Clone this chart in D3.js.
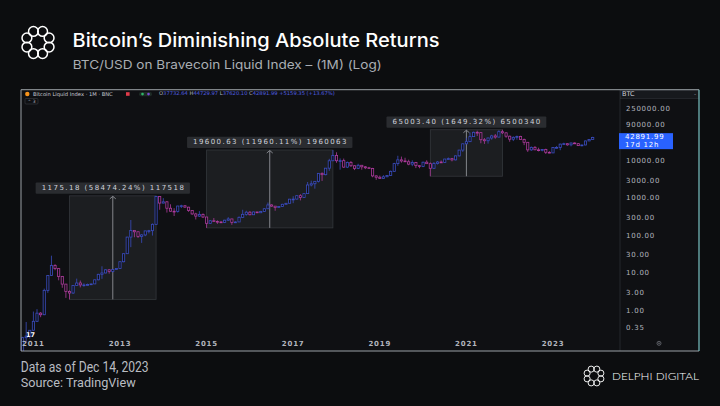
<!DOCTYPE html>
<html>
<head>
<meta charset="utf-8">
<script src="https://cdn.jsdelivr.net/npm/d3@7"></script>
<style>
  html, body { margin: 0; padding: 0; background: #0c0d0f; }
  svg { display: block; }
</style>
</head>
<body>
<div id="chart"></div>
<script>
// Size of the page
const w = 720;
const h = 406;

// Monthly candles, first one is Oct 2010 (month index 9 counted from Jan 2010)
const firstMonthIndex = 9;

const opens = [
  0.06, 0.19, 0.21,
  0.30, 0.52, 0.86, 0.78, 3.50, 8.74, 16.1, 13.35, 8.19, 5.14, 3.25, 2.97,
  4.72, 5.5, 4.9, 4.9, 5.0, 5.2, 6.7, 9.4, 10.2, 12.4, 11.2, 12.6,
  13.5, 20.4, 33.4, 93, 139, 129, 97, 106, 136, 138, 204, 1129,
  754, 815, 549, 457, 447, 630, 640, 586, 478, 387, 338, 375,
  320, 217, 254, 244, 236, 230, 263, 284, 230, 236, 314, 377,
  430, 368, 437, 416, 448, 531, 673, 624, 573, 609, 700, 745,
  960, 965, 1190, 1070, 1350, 2300, 2480, 2875, 4700, 4340, 6470, 10200,
  14150, 10230, 10300, 6900, 9240, 7500, 6390, 7730, 7040, 6620, 6320, 4020,
  3700, 3430, 3810, 4100, 5320, 8570, 10820, 10080, 9600, 8300, 9200, 7550,
  7200, 9350, 8540, 6420, 8630, 9450, 9140, 11350, 11660, 10780, 13800, 19700,
  29000, 33100, 45150, 58800, 57700, 37300, 35000, 41500, 47100, 43800, 61300, 57000,
  46300, 38500, 43200, 45500, 37700, 31800, 19950, 23300, 20050, 19430, 20500, 17170,
  16550, 23130, 23150, 28470, 29250, 27220, 30480, 29230, 25940, 26970, 34640, 37732.64
];

const highs = [
  0.20, 0.50, 0.30,
  0.95, 1.10, 0.92, 3.90, 8.90, 29.6, 17.5, 13.5, 8.5, 5.2, 3.5, 4.8,
  7.2, 6.4, 5.4, 5.3, 5.3, 6.8, 9.7, 15.4, 12.9, 13.0, 12.8, 13.8,
  20.7, 34.0, 94, 266, 139, 130, 112, 136, 145, 215, 1177.19, 1165,
  1022, 850, 700, 550, 635, 680, 660, 600, 490, 415, 460, 400,
  320, 265, 300, 260, 248, 270, 317, 287, 245, 330, 500, 470,
  460, 448, 440, 467, 550, 780, 700, 627, 630, 720, 750, 975,
  1150, 1200, 1300, 1355, 2760, 3000, 2900, 4780, 5000, 6480, 11500, 19764.5,
  17200, 11800, 11700, 9750, 10000, 7770, 8500, 7750, 7400, 7000, 6600, 4200,
  4100, 4200, 4150, 5600, 9000, 13900, 13200, 12300, 10900, 10500, 9500, 7750,
  9600, 10500, 9200, 9450, 10070, 10400, 11450, 12470, 12100, 14100, 19900, 29300,
  41950, 58350, 61800, 64900, 59600, 41300, 42300, 50500, 52900, 67000, 68944.6, 59100,
  47900, 45800, 48200, 47400, 40000, 31900, 24600, 25200, 22800, 20950, 21450, 18400,
  23900, 25250, 29200, 31000, 29820, 31400, 31800, 30200, 27500, 35200, 38450, 44729.97
];

const lows = [
  0.06, 0.14, 0.18,
  0.29, 0.50, 0.67, 0.76, 3.0, 8.7, 12.1, 6.5, 4.1, 2.2, 2.0097, 2.8,
  4.7, 4.2, 4.4, 4.7, 4.9, 5.2, 6.5, 7.1, 10.0, 9.8, 10.5, 12.3,
  13.2, 19.6, 33, 50, 92, 88, 65, 98, 117, 102, 199, 500,
  740, 420, 440, 340, 420, 555, 570, 440, 365, 275, 320, 300,
  163.88, 210, 236, 210, 225, 220, 253, 198, 224, 235, 300, 347,
  355, 365, 405, 411, 435, 530, 600, 470, 570, 605, 690, 745,
  750, 935, 890, 1060, 1350, 2100, 1830, 2690, 2950, 4150, 5500, 10200,
  9000, 5900, 6600, 6500, 7000, 5750, 6100, 5880, 6100, 6200, 3700, 3150,
  3350, 3400, 3700, 4050, 5300, 7500, 9080, 9400, 7750, 7300, 6500, 6450,
  6900, 8500, 3941.2, 6160, 8100, 8900, 8950, 11120, 9850, 10400, 13200, 17600,
  28100, 32400, 45000, 47000, 30000, 28800, 29300, 37300, 39600, 43300, 53250, 42000,
  32900, 34300, 37200, 37600, 26700, 17600, 18800, 19600, 18150, 18200, 15500, 16300,
  16500, 21400, 19550, 26950, 25800, 24800, 28850, 25300, 24900, 26550, 34100, 37620.10
];

const closes = [
  0.19, 0.21, 0.30,
  0.52, 0.86, 0.78, 3.50, 8.74, 16.1, 13.35, 8.19, 5.14, 3.25, 2.97, 4.72,
  5.5, 4.9, 4.9, 5.0, 5.2, 6.7, 9.4, 10.2, 12.4, 11.2, 12.6, 13.5,
  20.4, 33.4, 93, 139, 129, 97, 106, 136, 138, 204, 1129, 754,
  815, 549, 457, 447, 630, 640, 586, 478, 387, 338, 375, 320,
  217, 254, 244, 236, 230, 263, 284, 230, 236, 314, 377, 430,
  368, 437, 416, 448, 531, 673, 624, 573, 609, 700, 745, 960,
  965, 1190, 1070, 1350, 2300, 2480, 2875, 4700, 4340, 6470, 10200, 14150,
  10230, 10300, 6900, 9240, 7500, 6390, 7730, 7040, 6620, 6320, 4020, 3700,
  3430, 3810, 4100, 5320, 8570, 10820, 10080, 9600, 8300, 9200, 7550, 7200,
  9350, 8540, 6420, 8630, 9450, 9140, 11350, 11660, 10780, 13800, 19700, 29000,
  33100, 45150, 58800, 57700, 37300, 35000, 41500, 47100, 43800, 61300, 57000, 46300,
  38500, 43200, 45500, 37700, 31800, 19950, 23300, 20050, 19430, 20500, 17170, 16550,
  23130, 23150, 28470, 29250, 27220, 30480, 29230, 25940, 26970, 34640, 37730, 42891.99
];

// Y axis tick labels and x axis year labels
const priceTicks = [0.35, 1, 3, 10, 30, 100, 300, 1000, 3000, 10000, 90000, 250000];
const yearTicks = [2011, 2013, 2015, 2017, 2019, 2021, 2023];

// Price range measurements drawn on the chart
const rangeStart = ["2011-11", "2015-01", "2020-03"];
const rangeEnd = ["2013-11", "2017-12", "2021-11"];
const rangeLow = [2.0097, 163.88, 3941.2];
const rangeHigh = [1177.19, 19764.5, 68944.6];
const rangeLabels = [
  "1175.18 (58474.24%) 117518",
  "19600.63 (11960.11%) 1960063",
  "65003.40 (1649.32%) 6500340"
];

const lastPrice = 42891.99;
const countdown = "17d 12h";

// month "YYYY-MM" -> index counted from Jan 2010
function monthIndex(s) {
  const [y, m] = s.split("-").map(Number);
  return (y - 2010) * 12 + (m - 1);
}

const candles = closes.map((c, i) => ({
  m: firstMonthIndex + i,
  o: opens[i], h: highs[i], l: lows[i], c: c
}));

const svg = d3.select("#chart")
  .append("svg")
  .attr("width", w)
  .attr("height", h);

svg.append("rect").attr("width", w).attr("height", h).attr("fill", "#0c0d0f");

// Delphi logo (ring of loops)
function drawLogo(cx, cy, s) {
  const g = svg.append("g").attr("transform", `translate(${cx},${cy}) scale(${s})`);
  d3.range(8).forEach(k => {
    const a = (k * 45 + 22.5) * Math.PI / 180;
    g.append("circle")
      .attr("cx", 12 * Math.cos(a))
      .attr("cy", 12 * Math.sin(a))
      .attr("r", 4.9)
      .attr("fill", "none")
      .attr("stroke", "#ffffff")
      .attr("stroke-width", 1.5);
  });
}

drawLogo(38, 42.5, 1);

// Titles
svg.append("text")
  .attr("x", 72.5).attr("y", 46.7)
  .attr("font-family", "Inter, sans-serif")
  .attr("font-weight", 500)
  .attr("font-size", 18.5)
  .attr("fill", "#ffffff")
  .attr("textLength", 367).attr("lengthAdjust", "spacingAndGlyphs")
  .text("Bitcoin’s Diminishing Absolute Returns");

svg.append("text")
  .attr("x", 72.7).attr("y", 69.3)
  .attr("font-family", "Inter, sans-serif")
  .attr("font-size", 12.2)
  .attr("fill", "#a9adb3")
  .attr("textLength", 309).attr("lengthAdjust", "spacingAndGlyphs")
  .text("BTC/USD on Bravecoin Liquid Index – (1M) (Log)");

// Chart pane
const paneL = 21, paneT = 89.7, paneR = 620, paneB = 351, frameR = 699;

svg.append("rect")
  .attr("x", paneL).attr("y", paneT)
  .attr("width", frameR - paneL).attr("height", paneB - paneT)
  .attr("fill", "#0f1013");

svg.append("defs").append("clipPath").attr("id", "pane")
  .append("rect")
  .attr("x", paneL).attr("y", paneT)
  .attr("width", paneR - paneL).attr("height", paneB - paneT);

// Scales (TradingView spaces bars evenly, so x works on month index)
const xScale = d3.scaleLinear()
  .domain([monthIndex("2011-01"), monthIndex("2023-01")])
  .range([33.4, 553.0]);

const yScale = d3.scaleLog()
  .domain([1, 10000])
  .range([310.7, 161.1]);

const plot = svg.append("g").attr("clip-path", "url(#pane)");

// Price range boxes
const ranges = rangeLabels.map((t, i) => ({
  x0: xScale(monthIndex(rangeStart[i])),
  x1: xScale(monthIndex(rangeEnd[i])),
  y0: yScale(rangeLow[i]),
  y1: yScale(rangeHigh[i]),
  label: t
}));

ranges.forEach(r => {
  plot.append("rect")
    .attr("x", r.x0).attr("y", r.y1)
    .attr("width", r.x1 - r.x0).attr("height", r.y0 - r.y1)
    .attr("fill", "#1c1e21")
    .attr("stroke", "#34373c")
    .attr("stroke-width", 0.8);
  const mx = (r.x0 + r.x1) / 2;
  plot.append("line")
    .attr("x1", mx).attr("x2", mx)
    .attr("y1", r.y0).attr("y2", r.y1 + 0.5)
    .attr("stroke", "#8e9197").attr("stroke-width", 0.9);
  plot.append("path")
    .attr("d", `M${mx - 3},${r.y1 + 3} L${mx},${r.y1 + 0.5} L${mx + 3},${r.y1 + 3}`)
    .attr("fill", "none")
    .attr("stroke", "#8e9197").attr("stroke-width", 0.9);
});

// Candles
const upColor = "#3a4cbf";
const downColor = "#ad3a9c";

const bars = plot.selectAll("g.candle")
  .data(candles)
  .enter()
  .append("g")
  .attr("class", "candle");

bars.append("line")
  .attr("x1", d => xScale(d.m)).attr("x2", d => xScale(d.m))
  .attr("y1", d => yScale(d.h)).attr("y2", d => yScale(d.l))
  .attr("stroke", d => d.c >= d.o ? upColor : downColor)
  .attr("stroke-width", 0.8);

bars.append("rect")
  .attr("x", d => xScale(d.m) - 1.1)
  .attr("width", 2.2)
  .attr("y", d => yScale(Math.max(d.o, d.c)))
  .attr("height", d => Math.max(0.8, Math.abs(yScale(d.o) - yScale(d.c))))
  .attr("fill", "#0f1013")
  .attr("stroke", d => d.c >= d.o ? upColor : downColor)
  .attr("stroke-width", 0.8);

// Range labels (drawn after candles so they sit on top)
ranges.forEach(r => {
  const mx = (r.x0 + r.x1) / 2;
  const lw = r.label.length * 5.55 + 10;
  svg.append("rect")
    .attr("x", mx - lw / 2).attr("y", r.y1 - 13.3)
    .attr("width", lw).attr("height", 11.2)
    .attr("rx", 1)
    .attr("fill", "#2a2c30");
  svg.append("text")
    .attr("x", mx).attr("y", r.y1 - 7.6)
    .attr("text-anchor", "middle")
    .attr("dominant-baseline", "middle")
    .attr("font-family", "DejaVu Sans, sans-serif")
    .attr("font-size", 7)
    .attr("fill", "#d1d4dc")
    .attr("textLength", lw - 12).attr("lengthAdjust", "spacing")
    .text(r.label);
});

// Price axis
svg.append("line")
  .attr("x1", paneR).attr("x2", paneR)
  .attr("y1", paneT).attr("y2", paneB)
  .attr("stroke", "#25272c").attr("stroke-width", 1);

svg.append("rect")
  .attr("x", paneR + 0.5).attr("y", paneT + 0.5)
  .attr("width", frameR - paneR - 1).attr("height", 8.5)
  .attr("fill", "#17191d")
  .attr("stroke", "#2e3136").attr("stroke-width", 0.6);

svg.append("text")
  .attr("x", paneR + 2).attr("y", paneT + 5)
  .attr("dominant-baseline", "middle")
  .attr("font-family", "DejaVu Sans, sans-serif")
  .attr("font-size", 6.5)
  .attr("fill", "#c9ccd3")
  .text("BTC");

svg.append("text")
  .attr("x", frameR - 5).attr("y", paneT + 4.5)
  .attr("dominant-baseline", "middle")
  .attr("font-family", "DejaVu Sans, sans-serif")
  .attr("font-size", 6)
  .attr("fill", "#8d9097")
  .text("-");

svg.selectAll("text.ytick")
  .data(priceTicks.filter(v => v !== 30000))
  .enter()
  .append("text")
  .attr("class", "ytick")
  .attr("x", 626)
  .attr("y", d => yScale(d))
  .attr("dominant-baseline", "middle")
  .attr("font-family", "DejaVu Sans, sans-serif")
  .attr("font-size", 7)
  .attr("letter-spacing", 0.75)
  .attr("fill", "#b2b5be")
  .text(d => d.toFixed(2));

// Last price label with countdown
const lpY = yScale(lastPrice);
svg.append("rect")
  .attr("x", 619).attr("y", lpY - 4.3)
  .attr("width", 54).attr("height", 16)
  .attr("fill", "#2962ff");
svg.append("text")
  .attr("x", 625).attr("y", lpY)
  .attr("dominant-baseline", "middle")
  .attr("font-family", "DejaVu Sans, sans-serif")
  .attr("font-size", 7)
  .attr("letter-spacing", 0.75)
  .attr("fill", "#ffffff")
  .text(lastPrice.toFixed(2));
svg.append("text")
  .attr("x", 625).attr("y", lpY + 7.6)
  .attr("dominant-baseline", "middle")
  .attr("font-family", "DejaVu Sans, sans-serif")
  .attr("font-size", 7)
  .attr("letter-spacing", 0.75)
  .attr("fill", "#ffffff")
  .text(countdown);

// eye icon at the bottom of the price axis
svg.append("circle").attr("cx", 659).attr("cy", 343.3).attr("r", 2)
  .attr("fill", "none").attr("stroke", "#6e7178").attr("stroke-width", 0.8);
svg.append("circle").attr("cx", 659).attr("cy", 343.3).attr("r", 0.8)
  .attr("fill", "#6e7178");

// Time axis labels
svg.selectAll("text.xtick")
  .data(yearTicks)
  .enter()
  .append("text")
  .attr("class", "xtick")
  .attr("x", d => xScale(monthIndex(d + "-01")))
  .attr("y", 344.5)
  .attr("text-anchor", "middle")
  .attr("dominant-baseline", "middle")
  .attr("font-family", "DejaVu Sans, sans-serif")
  .attr("font-weight", "bold")
  .attr("font-size", 7)
  .attr("letter-spacing", 0.8)
  .attr("fill", "#b2b5be")
  .text(d => d);

// TradingView mark
svg.append("text")
  .attr("x", 26).attr("y", 336.5)
  .attr("font-family", "DejaVu Sans, sans-serif")
  .attr("font-weight", "bold")
  .attr("font-size", 6.5)
  .attr("fill", "#ffffff")
  .text("17");

// Legend line
svg.append("circle").attr("cx", 27.3).attr("cy", 94).attr("r", 2.2).attr("fill", "#f7931a");

svg.append("text")
  .attr("x", 33).attr("y", 94.3)
  .attr("dominant-baseline", "middle")
  .attr("font-family", "DejaVu Sans, sans-serif")
  .attr("font-size", 5.2)
  .attr("fill", "#c9ccd3")
  .text("Bitcoin Liquid Index · 1M · BNC");

svg.append("rect").attr("x", 126).attr("y", 92.2).attr("width", 3.6).attr("height", 3.6)
  .attr("fill", "#e03b4a");
svg.append("rect").attr("x", 139).attr("y", 92).attr("width", 13).attr("height", 4.2).attr("rx", 2)
  .attr("fill", "#1d2a25");
svg.append("circle").attr("cx", 142.5).attr("cy", 94.1).attr("r", 1.3).attr("fill", "#2fb86a");
svg.append("circle").attr("cx", 148.5).attr("cy", 94.1).attr("r", 1.3).attr("fill", "#7b4bd4");

const ohlc = [["O", "37732.64"], ["H", "44729.97"], ["L", "37620.10"], ["C", "42891.99"]];
const legend = svg.append("text")
  .attr("x", 159).attr("y", 94.3)
  .attr("dominant-baseline", "middle")
  .attr("font-family", "DejaVu Sans, sans-serif")
  .attr("font-size", 5.2);
ohlc.forEach(p => {
  legend.append("tspan").attr("fill", "#b2b5be").text(p[0]);
  legend.append("tspan").attr("fill", "#4f5fe0").text(p[1] + " ");
});
legend.append("tspan").attr("fill", "#4f5fe0").text("+5159.35 (+13.67%)");

svg.append("rect").attr("x", 25).attr("y", 98.5).attr("width", 13).attr("height", 5.5).attr("rx", 1)
  .attr("fill", "none").attr("stroke", "#3a3d43").attr("stroke-width", 0.6);
svg.append("text")
  .attr("x", 31.5).attr("y", 101.4)
  .attr("text-anchor", "middle")
  .attr("dominant-baseline", "middle")
  .attr("font-family", "DejaVu Sans, sans-serif")
  .attr("font-size", 4.5)
  .attr("fill", "#b2b5be")
  .text("⌃ 3");

// Frame around the screenshot
svg.append("path")
  .attr("d", `M${frameR},${paneT} L${paneL},${paneT} L${paneL},${paneB} L${frameR},${paneB}`)
  .attr("fill", "none").attr("stroke", "#9aa0a6").attr("stroke-width", 1);
svg.append("line")
  .attr("x1", frameR).attr("x2", frameR).attr("y1", paneT).attr("y2", paneB)
  .attr("stroke", "#7ac3c4").attr("stroke-width", 1.2);

// Footer
svg.append("text")
  .attr("x", 20.7).attr("y", 371.7)
  .attr("font-family", "Roboto, sans-serif")
  .attr("font-size", 14)
  .attr("fill", "#b9bcc2")
  .attr("textLength", 128).attr("lengthAdjust", "spacingAndGlyphs")
  .text("Data as of Dec 14, 2023");

svg.append("text")
  .attr("x", 20.7).attr("y", 387.3)
  .attr("font-family", "Roboto, sans-serif")
  .attr("font-size", 13)
  .attr("fill", "#b9bcc2")
  .attr("textLength", 115).attr("lengthAdjust", "spacingAndGlyphs")
  .text("Source: TradingView");

drawLogo(594, 376, 0.62);

svg.append("text")
  .attr("x", 612).attr("y", 380)
  .attr("font-family", "Lato, sans-serif")
  .attr("font-weight", 300)
  .attr("font-size", 10)
  .attr("fill", "#ffffff")
  .attr("textLength", 87).attr("lengthAdjust", "spacingAndGlyphs")
  .text("DELPHI DIGITAL");
</script>
</body>
</html>
